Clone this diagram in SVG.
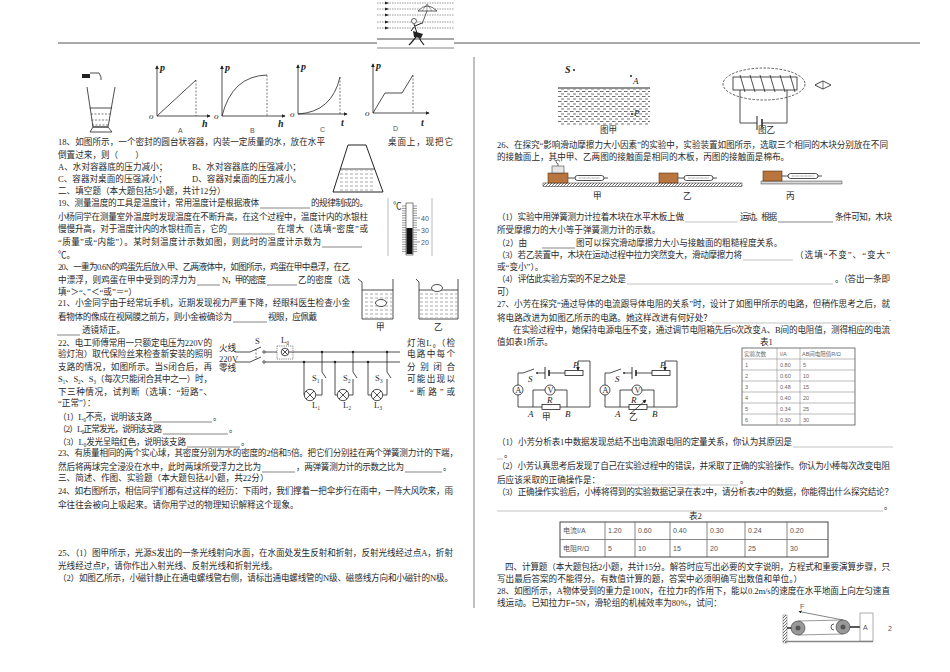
<svg xmlns="http://www.w3.org/2000/svg" width="950" height="672" viewBox="0 0 950 672">
<style>
.t{font-family:"Liberation Serif","Noto Sans CJK SC",serif;font-size:8.6px;fill:#2a2a2a}
.sm{font-family:"Liberation Sans","Noto Sans CJK SC",sans-serif;font-size:7px;fill:#555}
.tb{font-family:"Liberation Sans","Noto Sans CJK SC",sans-serif;font-size:5.5px;fill:#666}
.it{font-family:"Liberation Serif",serif;font-style:italic;font-size:9px;fill:#222}
.itb{font-family:"Liberation Serif",serif;font-style:italic;font-weight:bold;font-size:10px;fill:#222}
.s{stroke:#222;fill:none;stroke-width:0.8}
.sw{stroke:#222;fill:#fff;stroke-width:0.8}
.d{stroke:#222;fill:none;stroke-width:0.6;stroke-dasharray:2 1.5}
.b{stroke:#333;stroke-width:0.6}
.bg{stroke:#9a9a9a;stroke-width:0.6}
.dot{fill:#222}
</style>
<defs>
<marker id="ar" viewBox="0 0 6 6" refX="5" refY="3" markerWidth="5" markerHeight="5" orient="auto"><path d="M0,0 L6,3 L0,6 z" fill="#222"/></marker>
<pattern id="wave" width="6" height="5" patternUnits="userSpaceOnUse"><line x1="0" y1="1.5" x2="3.5" y2="1.5" stroke="#333" stroke-width="0.7"/><line x1="3" y1="4" x2="6" y2="4" stroke="#333" stroke-width="0.7"/></pattern>
<pattern id="liq" width="5" height="4" patternUnits="userSpaceOnUse"><line x1="0" y1="2" x2="3" y2="2" stroke="#555" stroke-width="0.5"/></pattern>
<pattern id="hatch" width="3" height="3" patternUnits="userSpaceOnUse"><line x1="0" y1="3" x2="3" y2="0" stroke="#333" stroke-width="0.7"/></pattern>
<pattern id="cot" width="2" height="2" patternUnits="userSpaceOnUse"><circle cx="1" cy="1" r="0.6" fill="#333"/></pattern>
</defs>

<g id="header">
<line x1="58" y1="43" x2="377" y2="43" stroke="#555" stroke-width="1"/>
<line x1="454" y1="43" x2="920" y2="43" stroke="#555" stroke-width="1"/>
<line x1="377" y1="39" x2="454" y2="39" stroke="#222" stroke-width="0.8"/>
<line x1="377" y1="48" x2="454" y2="48" stroke="#888" stroke-width="1.2"/>
<g stroke="#333" stroke-width="0.5" stroke-dasharray="1.5 1">
<line x1="377" y1="3" x2="454" y2="3"/><line x1="377" y1="9" x2="454" y2="9"/><line x1="377" y1="15" x2="454" y2="15"/><line x1="377" y1="22" x2="454" y2="22"/><line x1="377" y1="28" x2="454" y2="28"/>
</g>
<g fill="#222"><path d="M385,1.5 L389,3 L385,4.5z"/><path d="M385,7.5 L389,9 L385,10.5z"/><path d="M385,13.5 L389,15 L385,16.5z"/><path d="M385,20.5 L389,22 L385,23.5z"/><path d="M385,26.5 L389,28 L385,29.5z"/></g>
<path d="M418,11 Q427,1 437,11 Z" fill="#fff" stroke="#222" stroke-width="0.7"/>
<path d="M422,11 L427,4 L432,11 M427,4 L427,11" stroke="#222" stroke-width="0.4" fill="none"/>
<line x1="427" y1="11" x2="422" y2="24" stroke="#222" stroke-width="0.7"/>
<circle cx="414" cy="21" r="2.5" fill="#fff" stroke="#222" stroke-width="0.7"/>
<path d="M414,24 L417,33 M415,26 L422,23 M414,27 L411,31" stroke="#222" stroke-width="1" fill="none"/>
<path d="M413,31 L423,34 L421,38 L414,37z" fill="#222"/>
<path d="M416,37 L411,43 L409,45 M419,37 L421,41 L424,45" stroke="#222" stroke-width="1.2" fill="none"/>
</g>

<line id="divider" x1="474" y1="57" x2="474" y2="608" stroke="#aaa" stroke-width="1.5"/>

<g id="fig17">
<rect x="82" y="74" width="8" height="4" fill="#222"/>
<path d="M90,73 L99,73 L101,77 L101,80" stroke="#222" fill="none" stroke-width="0.8"/>
<path d="M87,87 L93,127 L108,127 L115,87" class="s"/>
<path d="M90,132 L93,127 L108,127 L112,132 Z" class="s"/>
<line x1="89.7" y1="108" x2="112.1" y2="108" class="s"/>
<line x1="91" y1="114" x2="111" y2="114" class="d"/>
<line x1="91.5" y1="120" x2="110" y2="120" class="d"/>
<line x1="92" y1="125" x2="109" y2="125" class="d"/>
</g>

<g id="graphA">
<line x1="157" y1="116" x2="157" y2="66" class="s" marker-end="url(#ar)"/>
<line x1="157" y1="116" x2="210" y2="116" class="s" marker-end="url(#ar)"/>
<line x1="157" y1="116" x2="196" y2="80" class="s"/>
<line x1="196" y1="80" x2="196" y2="116" class="d"/>
<text x="160" y="71" class="itb">p</text><text x="149" y="119" class="it">o</text><text x="202" y="127" class="itb">h</text>
<text x="178" y="133" class="sm">A</text>
</g>
<g id="graphB">
<line x1="222" y1="116" x2="222" y2="66" class="s" marker-end="url(#ar)"/>
<line x1="222" y1="116" x2="285" y2="116" class="s" marker-end="url(#ar)"/>
<path d="M222,116 Q232,76 267,75" class="s"/>
<line x1="267" y1="75" x2="267" y2="116" class="d"/>
<text x="225" y="71" class="itb">p</text><text x="214" y="119" class="it">o</text><text x="278" y="127" class="itb">h</text>
<text x="250" y="133" class="sm">B</text>
</g>
<g id="graphC">
<line x1="298" y1="114" x2="298" y2="65" class="s" marker-end="url(#ar)"/>
<line x1="298" y1="114" x2="347" y2="114" class="s" marker-end="url(#ar)"/>
<path d="M298,114 Q332,112 340,77" class="s"/>
<line x1="340" y1="77" x2="340" y2="114" class="d"/>
<text x="301" y="70" class="itb">p</text><text x="290" y="117" class="it">o</text><text x="341" y="126" class="itb">t</text>
<text x="320" y="132" class="sm">C</text>
</g>
<g id="graphD">
<line x1="373" y1="113" x2="373" y2="64" class="s" marker-end="url(#ar)"/>
<line x1="373" y1="113" x2="429" y2="113" class="s" marker-end="url(#ar)"/>
<path d="M373,113 L385,93 L402,93 L413,75" class="s"/>
<line x1="413" y1="75" x2="413" y2="113" class="d"/>
<text x="376" y="69" class="itb">p</text><text x="365" y="116" class="it">o</text><text x="421" y="126" class="itb">t</text>
<text x="393" y="131" class="sm">D</text>
</g>

<g id="fig18">
<path d="M348,145 L366,145 L383,192 L333,192 Z" stroke="#222" stroke-width="1" fill="none"/>
<line x1="340.3" y1="169" x2="374.7" y2="169" class="s"/>
<rect x="340" y="170" width="35" height="21" fill="url(#liq)"/>
</g>

<g id="thermometer">
<line x1="388" y1="198" x2="388" y2="256" stroke="#bbb" stroke-width="1"/>
<line x1="432" y1="198" x2="432" y2="256" stroke="#bbb" stroke-width="1"/>
<text x="393" y="209" class="t" font-size="8">℃</text>
<rect x="406" y="203" width="7" height="52" fill="#fff" stroke="#333" stroke-width="0.6"/>
<rect x="406.5" y="228" width="6" height="26" fill="#111"/>
<path d="M402,206H406M402,208.4H406M402,210.8H406M402,213.2H406M402,215.6H406M402,218H406M402,220.4H406M402,222.8H406M402,225.2H406M402,227.6H406M402,230H406M402,232.4H406M402,234.8H406M402,237.2H406M402,239.6H406M402,242H406M402,244.4H406M402,246.8H406M402,249.2H406M402,251.6H406" stroke="#333" stroke-width="0.5"/>
<path d="M413,206H417M413,208.4H417M413,210.8H417M413,213.2H417M413,215.6H417M413,218H420M413,220.4H417M413,222.8H417M413,225.2H417M413,227.6H417M413,230H420M413,232.4H417M413,234.8H417M413,237.2H417M413,239.6H417M413,242H420M413,244.4H417M413,246.8H417M413,249.2H417M413,251.6H417" stroke="#333" stroke-width="0.5"/>
<text x="421" y="221" class="sm" font-size="8" fill="#222">40</text>
<text x="421" y="233" class="sm" font-size="8" fill="#222">30</text>
<text x="421" y="245" class="sm" font-size="8" fill="#222">20</text>
</g>

<g id="beakers">
<path d="M358,279 L362,282 L362,319 L393,319 L393,279" class="s"/>
<line x1="362" y1="290" x2="393" y2="290" class="s"/>
<rect x="363" y="291" width="29" height="27" fill="url(#liq)"/>
<ellipse cx="381" cy="303" rx="5.5" ry="3.5" class="sw"/>
<path d="M416,279 L419,282 L419,319 L458,319 L458,279" class="s"/>
<line x1="419" y1="290" x2="458" y2="290" class="s"/>
<rect x="420" y="291" width="37" height="27" fill="url(#liq)"/>
<ellipse cx="437" cy="288" rx="5.5" ry="3.5" class="sw"/>
<text x="376" y="330" class="t" font-size="7">甲</text>
<text x="434" y="330" class="t" font-size="7">乙</text>
</g>

<g id="circuit22">
<text x="219" y="351" class="t" font-size="6">火线</text>
<text x="219" y="362" class="t" font-size="6">220V</text>
<text x="219" y="371" class="t" font-size="6">零线</text>
<line x1="235" y1="352" x2="250" y2="352" class="s"/>
<line x1="235" y1="362" x2="250" y2="362" class="s"/>
<line x1="250" y1="352" x2="261" y2="347" class="s"/>
<line x1="250" y1="362" x2="261" y2="357" class="s"/>
<line x1="256" y1="349" x2="256" y2="360" class="d" stroke-width="0.5"/>
<circle cx="264" cy="352" r="1.2" class="sw" stroke-width="0.5"/>
<circle cx="264" cy="362" r="1.2" class="sw" stroke-width="0.5"/>
<line x1="265.2" y1="352" x2="277" y2="352" class="s"/>
<line x1="265.2" y1="362" x2="400" y2="362" class="s"/>
<text x="255" y="344" class="t" font-size="6.5">S</text>
<rect x="277" y="346" width="16" height="13" fill="none" stroke="#333" stroke-width="0.6" stroke-dasharray="1.2 1"/>
<circle cx="285" cy="352" r="3.8" class="sw"/>
<path d="M282.3,349.3 L287.7,354.7 M287.7,349.3 L282.3,354.7" class="s" stroke-width="0.6"/>
<text x="281" y="343" class="t" font-size="6.5">L₀</text>
<line x1="288.8" y1="352" x2="400" y2="352" class="s"/>
<g id="br1">
<circle cx="322" cy="352" r="1.2" class="dot"/><circle cx="304" cy="362" r="1.2" class="dot"/>
<path d="M322,352 V372 M322,372 L326,378 M322,379 V395 H316 M304,362 V395 H304.5" class="s"/>
<circle cx="310" cy="395" r="5.7" class="sw"/>
<path d="M306,391 L314,399 M314,391 L306,399" class="s" stroke-width="0.6"/>
<text x="312" y="381" class="t" font-size="6.5">S₁</text><text x="312" y="408" class="t" font-size="6.5">L₁</text>
</g>
<g id="br2">
<circle cx="353" cy="352" r="1.2" class="dot"/><circle cx="335" cy="362" r="1.2" class="dot"/>
<path d="M353,352 V372 M353,372 L357,378 M353,379 V395 H349 M335,362 V395 H337.3" class="s"/>
<circle cx="343" cy="395" r="5.7" class="sw"/>
<path d="M339,391 L347,399 M347,391 L339,399" class="s" stroke-width="0.6"/>
<text x="343" y="381" class="t" font-size="6.5">S₂</text><text x="343" y="408" class="t" font-size="6.5">L₂</text>
</g>
<g id="br3">
<circle cx="387" cy="352" r="1.2" class="dot"/><circle cx="368" cy="362" r="1.2" class="dot"/>
<path d="M387,352 V372 M387,372 L391,378 M387,379 V395 H382.7 M368,362 V395 H371.3" class="s"/>
<circle cx="377" cy="395" r="5.7" class="sw"/>
<path d="M373,391 L381,399 M381,391 L373,399" class="s" stroke-width="0.6"/>
<text x="375" y="381" class="t" font-size="6.5">S₃</text><text x="374" y="408" class="t" font-size="6.5">L₃</text>
</g>
</g>

<g id="fig25a">
<rect x="558" y="89" width="92" height="36" fill="url(#wave)"/>
<line x1="558" y1="88" x2="650" y2="88" stroke="#222" stroke-width="1"/>
<text x="565" y="73" class="itb" font-size="9">S</text><circle cx="574" cy="70" r="1" class="dot"/>
<circle cx="631" cy="76" r="1" class="dot"/><text x="633" y="84" class="it" font-size="8">A</text>
<circle cx="632" cy="114" r="1" class="dot"/><text x="634" y="116" class="it" font-size="8">P</text>
<text x="600" y="133" class="t" font-size="7">图甲</text>
</g>
<g id="fig25b">
<ellipse cx="764" cy="84" rx="41" ry="16" fill="none" stroke="#333" stroke-width="0.8" stroke-dasharray="2.5 1.5"/>
<rect x="733" y="77" width="64" height="13" fill="#fff" stroke="#222" stroke-width="0.8"/>
<path d="M740,75 L745,92 M750,75 L755,92 M760,75 L765,92 M770,75 L775,92 M780,75 L785,92 M790,75 L795,92" stroke="#222" stroke-width="0.8"/>
<path d="M740,90 V123 H757 M762,123 H787 V90" class="s"/>
<line x1="757" y1="116" x2="757" y2="130" stroke="#222" stroke-width="1"/>
<line x1="762" y1="119" x2="762" y2="127" stroke="#222" stroke-width="1.5"/>
<path d="M815,85 L823,81 L831,85 L823,89 Z" fill="#fff" stroke="#222" stroke-width="0.8"/>
<path d="M815,85 L823,81 L823,89 Z" fill="#fff" stroke="#222" stroke-width="0.6"/>
<text x="758" y="133" class="t" font-size="7">图乙</text>
</g>

<g id="friction">
<rect x="543" y="183" width="199" height="3.5" fill="url(#hatch)" stroke="#222" stroke-width="0.5"/>
<rect x="761" y="181" width="81" height="3" fill="url(#cot)" stroke="#222" stroke-width="0.4"/>
<g id="blockJia">
<rect x="548" y="173" width="20" height="10" fill="#b8763e" stroke="#5a3314" stroke-width="0.6"/>
<rect x="552" y="166" width="12" height="7" fill="#e6e6e6" stroke="#444" stroke-width="0.6"/>
<path d="M558,166 V163.5 A1.8,1.8 0 1 1 559.8,161.7" fill="none" stroke="#333" stroke-width="0.7"/>
<line x1="568" y1="178" x2="575" y2="178" class="s"/>
<rect x="575" y="175.5" width="29" height="5" rx="2.5" fill="#fff" stroke="#222" stroke-width="0.8"/>
<line x1="579" y1="178" x2="600" y2="178" stroke="#222" stroke-width="0.5" stroke-dasharray="0.8 0.5"/>
<line x1="604" y1="178" x2="608" y2="178" class="s"/>
</g>
<g id="blockYi">
<rect x="659" y="173" width="19" height="10" fill="#b8763e" stroke="#5a3314" stroke-width="0.6"/>
<line x1="678" y1="178" x2="684" y2="178" class="s"/>
<rect x="684" y="175.5" width="29" height="5" rx="2.5" fill="#fff" stroke="#222" stroke-width="0.8"/>
<line x1="688" y1="178" x2="709" y2="178" stroke="#222" stroke-width="0.5" stroke-dasharray="0.8 0.5"/>
<line x1="713" y1="178" x2="717" y2="178" class="s"/>
</g>
<g id="blockBing">
<rect x="763" y="171" width="19" height="10" fill="#b8763e" stroke="#5a3314" stroke-width="0.6"/>
<line x1="782" y1="176" x2="788" y2="176" class="s"/>
<rect x="788" y="173.5" width="30" height="5" rx="2.5" fill="#fff" stroke="#222" stroke-width="0.8"/>
<line x1="792" y1="176" x2="814" y2="176" stroke="#222" stroke-width="0.5" stroke-dasharray="0.8 0.5"/>
<line x1="818" y1="176" x2="822" y2="176" class="s"/>
</g>
<text x="593" y="199" class="t">甲</text>
<text x="683" y="199" class="t">乙</text>
<text x="786" y="199" class="t">丙</text>
</g>

<g id="circuitJia">
<path d="M518,373 H523 M523,373 L534,369 M537,373 H545 M549,373 H565 M583,373 H583 M578,361 H590 V407 H518 V373" class="s"/>
<circle cx="537" cy="373" r="0.9" class="dot"/>
<line x1="545" y1="367" x2="545" y2="379" stroke="#222" stroke-width="0.9"/>
<line x1="549" y1="370" x2="549" y2="376" stroke="#222" stroke-width="1.6"/>
<rect x="565" y="370.5" width="18" height="5" class="sw"/>
<line x1="578" y1="361" x2="578" y2="370" class="s" marker-end="url(#ar)"/>
<circle cx="518" cy="390" r="5" class="sw"/><text x="515.3" y="392.6" class="t" font-size="7">A</text>
<path d="M533,407 V390 H545 M555,390 H567 V407" class="s"/>
<circle cx="550" cy="390" r="5" class="sw"/><text x="547.5" y="392.6" class="t" font-size="7">V</text>
<rect x="542" y="404.5" width="18" height="5" class="sw"/>
<text x="528" y="382" class="it" font-size="8">S</text>
<text x="573" y="368" class="it" font-size="8">P</text>
<text x="547" y="403" class="it" font-size="8">R</text>
<text x="528" y="417" class="it" font-size="8">A</text>
<text x="565" y="417" class="it" font-size="8">B</text>
<text x="542" y="420" class="t" font-size="7.5">甲</text>
</g>
<g id="circuitYi">
<path d="M605,373 H610 M610,373 L621,369 M624,373 H632 M636,373 H652 M665,361 H677 V407 H605 V373" class="s"/>
<circle cx="624" cy="373" r="0.9" class="dot"/>
<line x1="632" y1="367" x2="632" y2="379" stroke="#222" stroke-width="0.9"/>
<line x1="636" y1="370" x2="636" y2="376" stroke="#222" stroke-width="1.6"/>
<rect x="652" y="370.5" width="18" height="5" class="sw"/>
<line x1="665" y1="361" x2="665" y2="370" class="s" marker-end="url(#ar)"/>
<circle cx="605" cy="390" r="5" class="sw"/><text x="602.3" y="392.6" class="t" font-size="7">A</text>
<path d="M620,407 V390 H632 M642,390 H654 V407" class="s"/>
<circle cx="637" cy="390" r="5" class="sw"/><text x="634.5" y="392.6" class="t" font-size="7">V</text>
<rect x="629" y="404.5" width="18" height="5" class="sw"/>
<line x1="630" y1="414" x2="646" y2="400" class="s" marker-end="url(#ar)"/>
<text x="615" y="382" class="it" font-size="8">S</text>
<text x="660" y="368" class="it" font-size="8">P</text>
<text x="631" y="403" class="it" font-size="8">R</text>
<text x="615" y="417" class="it" font-size="8">A</text>
<text x="652" y="417" class="it" font-size="8">B</text>
<text x="629" y="420" class="t" font-size="7.5">乙</text>
</g>

<g id="table1">
<text x="760" y="345" class="t">表1</text>
<rect x="742" y="348" width="113" height="77" fill="none" stroke="#555" stroke-width="0.8"/>
<path d="M777,348V425M800,348V425M742,359H855M742,370H855M742,381H855M742,392H855M742,403H855M742,414H855" stroke="#777" stroke-width="0.5"/>
<text x="744" y="355.5" class="tb">实验次数</text><text x="780" y="355.5" class="tb">I/A</text><text x="802" y="355.5" class="tb">AB间电阻值R/Ω</text>
<text x="745" y="366.5" class="tb">1</text><text x="780" y="366.5" class="tb">0.80</text><text x="803" y="366.5" class="tb">5</text>
<text x="745" y="377.5" class="tb">2</text><text x="780" y="377.5" class="tb">0.60</text><text x="803" y="377.5" class="tb">10</text>
<text x="745" y="388.5" class="tb">3</text><text x="780" y="388.5" class="tb">0.48</text><text x="803" y="388.5" class="tb">15</text>
<text x="745" y="399.5" class="tb">4</text><text x="780" y="399.5" class="tb">0.40</text><text x="803" y="399.5" class="tb">20</text>
<text x="745" y="410.5" class="tb">5</text><text x="780" y="410.5" class="tb">0.34</text><text x="803" y="410.5" class="tb">25</text>
<text x="745" y="421.5" class="tb">6</text><text x="780" y="421.5" class="tb">0.30</text><text x="803" y="421.5" class="tb">30</text>
</g>

<g id="table2">
<text x="689" y="519" class="t">表2</text>
<rect x="560" y="522" width="268" height="35" fill="none" stroke="#444" stroke-width="1"/>
<path d="M605,522V557M635,522V557M670,522V557M707,522V557M745,522V557M787,522V557M560,539.5H828" stroke="#555" stroke-width="0.7"/>
<g class="sm" font-size="6.5">
<text x="563" y="533">电流I/A</text><text x="608" y="533">1.20</text><text x="638" y="533">0.60</text><text x="673" y="533">0.40</text><text x="710" y="533">0.30</text><text x="748" y="533">0.24</text><text x="790" y="533">0.20</text>
<text x="563" y="551">电阻R/Ω</text><text x="608" y="551">5</text><text x="638" y="551">10</text><text x="673" y="551">15</text><text x="710" y="551">20</text><text x="748" y="551">25</text><text x="790" y="551">30</text>
</g>
</g>

<g id="pulley28">
<rect x="783" y="615" width="4" height="28" fill="url(#hatch)" stroke="#555" stroke-width="0.4"/>
<line x1="785" y1="641.5" x2="873" y2="641.5" stroke="#888" stroke-width="1.5"/>
<line x1="787" y1="628" x2="792" y2="628" stroke="#222" stroke-width="1.5"/>
<path d="M798,621 L843,620 M798,635 L843,634" stroke="#555" stroke-width="0.6"/>
<line x1="843" y1="620" x2="799" y2="611.5" stroke="#333" stroke-width="0.6" marker-end="url(#ar)"/>
<circle cx="798" cy="628" r="7" fill="#999" stroke="#333" stroke-width="0.6"/>
<circle cx="798" cy="628" r="2.5" fill="#555"/>
<circle cx="843" cy="627" r="7" fill="#999" stroke="#333" stroke-width="0.6"/>
<circle cx="843" cy="627" r="2.5" fill="#555"/>
<path d="M834,624 A3,3 0 0 0 834,630" stroke="#333" fill="none" stroke-width="0.8"/>
<line x1="850" y1="627" x2="860" y2="627" stroke="#222" stroke-width="1.5"/>
<rect x="860" y="613" width="13" height="28" fill="#fff" stroke="#777" stroke-width="0.6"/>
<text x="863" y="630" class="sm" font-size="6.5">A</text>
<text x="800" y="609" class="sm" font-size="5.5">F</text>
</g>
<text x="888" y="631" class="sm" font-size="8" fill="#222">2</text>

<g id="blanks">
<line x1="260" y1="208" x2="310" y2="208" class="b"/>
<line x1="228" y1="234" x2="275" y2="234" class="b"/>
<line x1="322" y1="247" x2="362" y2="247" class="b"/>
<line x1="197" y1="285" x2="220" y2="285" class="b"/>
<line x1="267" y1="285" x2="297" y2="285" class="b"/>
<line x1="233" y1="322" x2="267" y2="322" class="b"/>
<line x1="57" y1="335" x2="80" y2="335" class="b"/>
<line x1="153" y1="422" x2="212" y2="422" class="b"/>
<line x1="163" y1="434" x2="228" y2="434" class="b"/>
<line x1="187" y1="447" x2="240" y2="447" class="b"/>
<line x1="262" y1="472" x2="295" y2="472" class="b"/>
<line x1="405" y1="472" x2="442" y2="472" class="b"/>
<line x1="685" y1="222" x2="738" y2="222" class="bg"/>
<line x1="778" y1="222" x2="833" y2="222" class="b"/>
<line x1="542" y1="248" x2="575" y2="248" class="b"/>
<line x1="743" y1="260" x2="793" y2="260" class="bg"/>
<line x1="627" y1="284" x2="833" y2="284" class="bg"/>
<line x1="712" y1="323" x2="880" y2="323" class="bg"/>
<line x1="793" y1="447" x2="893" y2="447" class="bg"/>
<line x1="497" y1="459" x2="503" y2="459" class="bg"/>
<line x1="605" y1="485" x2="738" y2="485" class="bg"/>
<line x1="497" y1="511" x2="883" y2="511" class="bg"/>
</g>

<g id="textLeft" class="t">
<text x="58" y="145" textLength="267">18、如图所示，一个密封的圆台状容器，内装一定质量的水，放在水平</text>
<text x="388" y="145" textLength="65">桌面上，现把它</text>
<text x="58" y="158">倒置过来，则（　　）</text>
<text x="58" y="170">A、水对容器底的压力减小；</text>
<text x="192" y="170">B、水对容器底的压强减小；</text>
<text x="58" y="182">C、容器对桌面的压强减小；</text>
<text x="192" y="182">D、容器对桌面的压力减小。</text>
<text x="58" y="194">二、填空题（本大题包括5小题，共计12分）</text>
<text x="58" y="206" textLength="201">19、测量温度的工具是温度计，常用温度计是根据液体</text>
<text x="311" y="206" textLength="57">的规律制成的。</text>
<text x="58" y="220" textLength="310">小杨同学在测量室外温度时发现温度在不断升高，在这个过程中，温度计内的水银柱</text>
<text x="58" y="232" textLength="169">慢慢升高，对于温度计内的水银柱而言，它的</text>
<text x="277" y="232" textLength="91">在增大（选填“密度”或</text>
<text x="58" y="245" textLength="263">“质量”或“内能”）。某时刻温度计示数如图，则此时的温度计示数为</text>
<text x="58" y="258">℃。</text>
<text x="58" y="270" textLength="292">20、一重为0.6N的鸡蛋先后放入甲、乙两液体中，如图所示，鸡蛋在甲中悬浮，在乙</text>
<text x="58" y="283" textLength="138">中漂浮，则鸡蛋在甲中受到的浮力为</text>
<text x="222" y="283" textLength="44">N，甲的密度</text>
<text x="298" y="283" textLength="52">乙的密度（选</text>
<text x="58" y="295">填“＞“、”＜“或”＝“）</text>
<text x="58" y="306" textLength="292">21、小金同学由于经常玩手机，近期发现视力严重下降，经眼科医生检查小金</text>
<text x="58" y="320" textLength="174">看物体的像成在视网膜之前方，则小金被确诊为</text>
<text x="268" y="320" textLength="49">视眼，应佩戴</text>
<text x="82" y="333">透镜矫正。</text>
<text x="58" y="346" textLength="154">22、电工师傅常用一只额定电压为220V的</text>
<text x="407" y="346" textLength="48">灯泡L₀（检</text>
<text x="58" y="357" textLength="154">验灯泡）取代保险丝来检查新安装的照明</text>
<text x="407" y="357" textLength="48">电路中每个</text>
<text x="58" y="370" textLength="154">支路的情况，如图所示。当S闭合后，再</text>
<text x="407" y="370" textLength="48">分别闭合</text>
<text x="58" y="382" textLength="154">S₁、S₂、S₃（每次只能闭合其中之一）时，</text>
<text x="407" y="382" textLength="48">可能出现以</text>
<text x="58" y="395" textLength="154">下三种情况，试判断（选填：“短路”、</text>
<text x="410" y="395" textLength="45">“断路”或</text>
<text x="58" y="406">“正常”）：</text>
<text x="58" y="420" textLength="94">（1）L₀不亮，说明该支路</text><text x="213" y="420">。</text>
<text x="58" y="432" textLength="104">（2）L₀正常发光，说明该支路</text><text x="229" y="432">。</text>
<text x="58" y="445" textLength="128">（3）L₀发光呈暗红色，说明该支路</text><text x="241" y="445">。</text>
<text x="58" y="456" textLength="400">23、有质量相同的两个实心球，其密度分别为水的密度的2倍和5倍。把它们分别挂在两个弹簧测力计的下端，</text>
<text x="58" y="470" textLength="203">然后将两球完全浸没在水中，此时两球所受浮力之比为</text>
<text x="296" y="470" textLength="108">，两弹簧测力计的示数之比为</text><text x="443" y="470">。</text>
<text x="58" y="481">三、简述、作图、实验题（本大题包括4小题，共22分）</text>
<text x="58" y="494" textLength="395">24、如右图所示，相信同学们都有过这样的经历：下雨时，我们撑着一把伞步行在雨中，一阵大风吹来，雨</text>
<text x="58" y="508">伞往往会被向上吸起来。请你用学过的物理知识解释这个现象。</text>
<text x="58" y="556" textLength="395">25、（1）图甲所示，光源S发出的一条光线射向水面，在水面处发生反射和折射，反射光线经过点A，折射</text>
<text x="58" y="569">光线经过点P，请你作出入射光线、反射光线和折射光线。</text>
<text x="58" y="581" textLength="395">（2）如图乙所示，小磁针静止在通电螺线管右侧，请标出通电螺线管的N级、磁感线方向和小磁针的N极。</text>
</g>

<g id="textRight" class="t">
<text x="497" y="148" textLength="391">26、在探究“影响滑动摩擦力大小因素”的实验中，实验装置如图所示，选取三个相同的木块分别放在不同</text>
<text x="497" y="160">的接触面上，其中甲、乙两图的接触面是相同的木板，丙图的接触面是棉布。</text>
<text x="497" y="220" textLength="187">（1）实验中用弹簧测力计拉着木块在水平木板上做</text>
<text x="740" y="220" textLength="37">运动。根据</text>
<text x="835" y="220" textLength="57">条件可知，木块</text>
<text x="497" y="233">所受摩擦力的大小等于弹簧测力计的示数。</text>
<text x="497" y="246">（2）由</text>
<text x="576" y="246">图可以探究滑动摩擦力大小与接触面的粗糙程度关系。</text>
<text x="497" y="258" textLength="245">（3）若乙装置中，木块在运动过程中拉力突然变大，滑动摩擦力将</text>
<text x="795" y="258" textLength="95">（选填“不变”、“变大”</text>
<text x="497" y="270">或“变小”）。</text>
<text x="497" y="282" textLength="129">（4）评估此实验方案的不足之处是</text>
<text x="835" y="282" textLength="55">。（答出一条即</text>
<text x="497" y="295">可）</text>
<text x="497" y="307" textLength="393">27、小芳在探究“通过导体的电流跟导体电阻的关系”时，设计了如图甲所示的电路，但稍作思考之后，就</text>
<text x="497" y="321">将电路改进为如图乙所示的电路。她这样改进有何好处？</text>
<text x="889" y="321">.</text>
<text x="513" y="333" textLength="377">在实验过程中，她保持电源电压不变，通过调节电阻箱先后6次改变A、B间的电阻值，测得相应的电流</text>
<text x="497" y="345">值如表1所示。</text>
<text x="497" y="445" textLength="295">（1）小芳分析表1中数据发现总结不出电流跟电阻的定量关系，你认为其原因是</text>
<text x="504" y="457">。</text>
<text x="497" y="469" textLength="393">（2）小芳认真思考后发现了自己在实验过程中的错误，并采取了正确的实验操作。你认为小棒每次改变电阻</text>
<text x="497" y="483">后应该采取的正确操作是：</text>
<text x="740" y="483">。</text>
<text x="497" y="495" textLength="396">（3）正确操作实验后，小棒将得到的实验数据记录在表2中，请分析表2中的数据，你能得出什么探究结论？</text>
<text x="884" y="509">。</text>
<text x="505" y="570" textLength="385">四、计算题（本大题包括2小题，共计15分。解答时应写出必要的文字说明，方程式和重要演算步骤，只</text>
<text x="497" y="582">写出最后答案的不能得分。有数值计算的题，答案中必须明确写出数值和单位。）</text>
<text x="497" y="594" textLength="393">28、如图所示，A物体受到的重力是100N，在拉力F的作用下，能以0.2m/s的速度在水平地面上向左匀速直</text>
<text x="497" y="606">线运动。已知拉力F=5N，滑轮组的机械效率为80%，试问：</text>
</g>
</svg>
